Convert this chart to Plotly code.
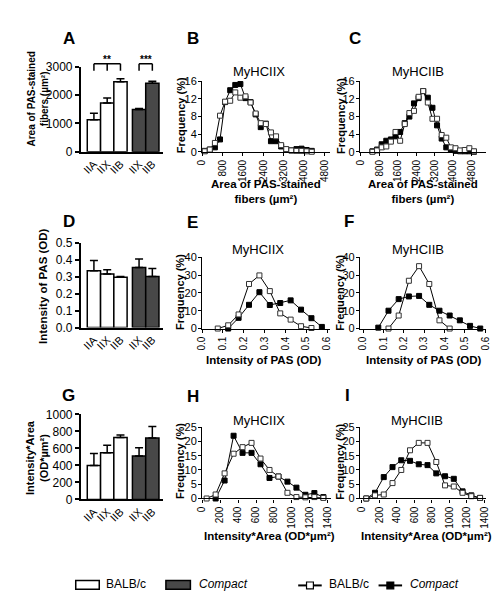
import plotly.graph_objects as go

W, H = 500, 602
def px(x): return x / W
def py(y): return 1 - y / H

FONT = "Liberation Sans, Arial, sans-serif"

# ---------------- bar data ----------------
bar_labels = ["IIA", "IIX", "IIB", "IIX", "IIB"]
balb_pos = [0, 1, 2]
comp_pos = [3.4, 4.4]

area_balb = [1130, 1720, 2470]
area_balb_err = [230, 180, 110]
area_comp = [1490, 2420]
area_comp_err = [35, 70]

pas_balb = [0.334, 0.315, 0.296]
pas_balb_err = [0.06, 0.025, 0.005]
pas_comp = [0.353, 0.300]
pas_comp_err = [0.05, 0.048]

ia_balb = [400, 550, 730]
ia_balb_err = [140, 88, 30]
ia_comp = [512, 723]
ia_comp_err = [96, 135]

# ---------------- frequency data ----------------
B_x = [100, 300, 500, 700, 900, 1100, 1300, 1500, 1700, 1900, 2100, 2300, 2500,
       2700, 2900, 3100, 3300, 3500, 3700, 3900, 4100, 4300]
B_balb = [0.1, 0.5, 2.0, 8.2, 11.4, 11.6, 13.5, 12.3, 12.6, 11.2, 8.7, 6.5, 6.3,
          4.4, 3.5, 1.5, 0.6, 0.3, 0.2, 0.2, 0.1, 0.0]
B_comp = [0.2, 0.5, 1.0, 2.8, 11.3, 14.0, 15.2, 15.4, 12.2, 11.3, 8.5, 5.6, 6.4,
          2.4, 2.4, 1.2, 0.5, 0.3, 0.6, 0.7, 0.4, 0.2]

C_x = [500, 700, 900, 1100, 1300, 1500, 1700, 1900, 2100, 2300, 2500, 2700, 2900,
       3100, 3300, 3500, 3700, 3900, 4100, 4300, 4500, 4700, 4900]
C_balb = [0.0, 0.3, 1.0, 1.2, 2.3, 4.5, 2.5, 6.3, 8.8, 9.3, 12.5, 13.8, 11.2,
          7.5, 7.5, 3.8, 3.2, 1.0, 0.8, 0.3, 0.4, 0.8, 0.1]
C_comp = [0.1, 0.5, 1.7, 2.5, 2.8, 3.5, 4.5, 6.5, 8.0, 11.0, 12.2, 13.8, 12.3,
          10.0, 6.0, 3.0, 1.0, 0.5, 0.2, 0.1, 0.1, 0.1, 0.0]

E_x_balb = [0.075, 0.125, 0.175, 0.225, 0.275, 0.325, 0.375, 0.425, 0.475, 0.525]
E_balb = [0.0, 1.8, 7.9, 25.0, 29.8, 21.0, 8.5, 5.0, 1.3, 0.3]
E_x_comp = [0.125, 0.175, 0.225, 0.275, 0.325, 0.375, 0.425, 0.475, 0.525, 0.575]
E_comp = [0.0, 6.0, 13.3, 20.4, 13.2, 14.3, 15.8, 10.6, 5.8, 0.9]

F_x_balb = [0.125, 0.175, 0.225, 0.275, 0.325, 0.375, 0.425]
F_balb = [0.0, 7.3, 26.8, 35.0, 25.0, 4.6, 0.0]
F_x_comp = [0.075, 0.125, 0.175, 0.225, 0.275, 0.325, 0.375, 0.425, 0.475, 0.525, 0.575]
F_comp = [0.5, 10.0, 16.5, 18.0, 18.3, 13.3, 10.0, 7.3, 4.6, 1.5, 0.0]

H_x = [50, 150, 250, 350, 450, 550, 650, 750, 850, 950, 1050, 1150, 1250, 1350]
H_balb = [0.0, 1.4, 8.8, 15.7, 18.0, 19.5, 14.0, 10.0, 7.7, 2.0, 0.5, 0.4, 0.5, 0.2]
H_x_comp = [150, 250, 350, 450, 550, 650, 750, 850, 950, 1050, 1150, 1250, 1350]
H_comp = [0.0, 6.3, 22.0, 16.0, 16.0, 12.0, 7.2, 7.7, 5.9, 3.8, 1.3, 1.9, 0.5]

I_x = [50, 150, 250, 350, 450, 550, 650, 750, 850, 950, 1050, 1150, 1250, 1350]
I_balb = [0.0, 1.1, 1.4, 5.4, 10.0, 16.9, 19.5, 19.5, 12.8, 4.6, 4.2, 2.0, 0.8, 0.2]
I_comp = [0.0, 2.0, 7.5, 11.0, 13.4, 13.2, 12.0, 11.7, 8.8, 7.8, 6.9, 2.5, 1.1, 0.2]

DARK = "#484848"

fig = go.Figure()

# ---------------- bar panels ----------------
bar_sets = [
    (1, area_balb, area_balb_err, area_comp, area_comp_err),
    (4, pas_balb, pas_balb_err, pas_comp, pas_comp_err),
    (7, ia_balb, ia_balb_err, ia_comp, ia_comp_err),
]
for n, vb, eb, vc, ec in bar_sets:
    xa = "x" if n == 1 else f"x{n}"
    ya = "y" if n == 1 else f"y{n}"
    for pos, vals, errs, col in [(balb_pos, vb, eb, "white"), (comp_pos, vc, ec, DARK)]:
        fig.add_trace(go.Bar(
            x=pos, y=vals, width=1.0, xaxis=xa, yaxis=ya,
            marker=dict(color=col, line=dict(color="black", width=1.5)),
            error_y=dict(type="data", symmetric=False, array=errs,
                         arrayminus=[0] * len(errs), color="black",
                         thickness=1.5, width=4),
            showlegend=False, cliponaxis=False))

# ---------------- frequency panels ----------------
freq_sets = [
    (2, B_x, B_balb, B_x, B_comp),
    (3, C_x, C_balb, C_x, C_comp),
    (5, E_x_balb, E_balb, E_x_comp, E_comp),
    (6, F_x_balb, F_balb, F_x_comp, F_comp),
    (8, H_x, H_balb, H_x_comp, H_comp),
    (9, I_x, I_balb, I_x, I_comp),
]
for n, xb, yb, xc, yc in freq_sets:
    xa, ya = f"x{n}", f"y{n}"
    fig.add_trace(go.Scatter(
        x=xc, y=yc, xaxis=xa, yaxis=ya, mode="lines+markers",
        line=dict(color="black", width=1),
        marker=dict(symbol="square", size=5, color="black",
                    line=dict(color="black", width=1)),
        showlegend=False, cliponaxis=False))
    fig.add_trace(go.Scatter(
        x=xb, y=yb, xaxis=xa, yaxis=ya, mode="lines+markers",
        line=dict(color="black", width=1),
        marker=dict(symbol="square", size=5, color="white",
                    line=dict(color="#333333", width=1)),
        showlegend=False, cliponaxis=False))

# ---------------- axes ----------------
layout_axes = {}

def set_axes(n, xdom, ydom, xrange, yrange, ytick, xkind, xtick=None, xfmt=None, yfmt=None):
    xk = "xaxis" if n == 1 else f"xaxis{n}"
    yk = "yaxis" if n == 1 else f"yaxis{n}"
    xa = "x" if n == 1 else f"x{n}"
    ya = "y" if n == 1 else f"y{n}"
    bar = xkind == "bar"
    lw = 1.5 if bar else 1.2
    yax = dict(domain=[py(ydom[0]), py(ydom[1])], range=yrange, anchor=xa,
               showline=True, linecolor="black", linewidth=lw,
               ticks="outside", ticklen=4 if bar else 3, tickwidth=lw, tickcolor="black",
               showgrid=False, zeroline=False, tick0=0, dtick=ytick,
               tickfont=dict(family=FONT, size=12 if bar else 11, color="black"))
    if not bar:
        yax["ticklabelstandoff"] = -1
    if yfmt:
        yax["tickformat"] = yfmt
    xax = dict(domain=[px(xdom[0]), px(xdom[1])], range=xrange, anchor=ya,
               showline=True, linecolor="black", linewidth=lw,
               showgrid=False, zeroline=False)
    if bar:
        xax.update(tickmode="array", tickvals=balb_pos + comp_pos, ticktext=bar_labels,
                   ticks="", tickangle=-45,
                   tickfont=dict(family=FONT, size=11, color="black"))
    else:
        xax.update(ticks="outside", ticklen=3, tickwidth=lw, tickcolor="black",
                   tick0=0, dtick=xtick, tickangle=-90,
                   tickfont=dict(family=FONT, size=10, color="black"))
        if xfmt:
            xax["tickformat"] = xfmt
    layout_axes[xk] = xax
    layout_axes[yk] = yax

bar_xr = [-1.0, 5.2]
set_axes(1, (68, 152), (140, 53), bar_xr, [0, 3000], 1000, "bar")
set_axes(4, (68, 152), (320, 233), bar_xr, [0, 0.5], 0.1, "bar", yfmt=".1f")
set_axes(7, (68, 152), (496, 409), bar_xr, [0, 1000], 200, "bar")

set_axes(2, (192, 322), (140, 68), [0, 5000], [0, 16], 4, "f", xtick=800)
set_axes(3, (353, 482), (140, 68), [-42, 5437], [0, 16], 4, "f", xtick=800)
set_axes(5, (192, 322), (321, 248), [0, 0.612], [0, 40], 10, "f", xtick=0.1, xfmt=".1f")
set_axes(6, (353, 482), (321, 248), [-0.015, 0.605], [0, 40], 10, "f", xtick=0.1, xfmt=".1f")
set_axes(8, (192, 323), (495, 422), [0, 1430], [0, 25], 5, "f", xtick=200)
set_axes(9, (353, 482), (495, 422), [-22, 1422], [0, 25], 5, "f", xtick=200)

# ---------------- annotations ----------------
ann = []
def text(x, y, s, size, bold=False, italic=False, angle=0, xanchor="center", yanchor="middle"):
    if bold:
        s = f"<b>{s}</b>"
    if italic:
        s = f"<i>{s}</i>"
    ann.append(dict(x=px(x), y=py(y), xref="paper", yref="paper", text=s, showarrow=False,
                    font=dict(family=FONT, size=size, color="black"), textangle=angle,
                    xanchor=xanchor, yanchor=yanchor))

# panel letters
for s, x, y in [("A", 56, 24), ("B", 183, 24), ("C", 348, 24),
                ("D", 56, 211), ("E", 182, 212), ("F", 342, 211),
                ("G", 56, 390), ("H", 183, 391), ("I", 340, 390)]:
    text(x, y, s, 17, bold=True)

# panel titles
for s, x, y in [("MyHCIIX", 250, 58), ("MyHCIIB", 412, 58),
                ("MyHCIIX", 249, 240), ("MyHCIIB", 412, 240),
                ("MyHCIIX", 250, 415), ("MyHCIIB", 411, 415)]:
    text(x, y, s, 13)

# y titles
text(24, 86, "Area of PAS-stained<br>fibers (µm²)", 10, bold=True, angle=-90)
text(29, 277, "Intensity of PAS (OD)", 11.5, bold=True, angle=-90)
text(24, 453, "Intensity*Area<br>(OD*µm²)", 11, bold=True, angle=-90)
for x, y in [(170, 103), (333, 103), (170, 284), (333, 284), (170, 457), (333, 457)]:
    text(x, y, "Frequency (%)", 11, bold=True, angle=-90)

# x titles
text(257, 181, "Area of PAS-stained<br>fibers (µm²)", 11.5, bold=True)
text(417, 181, "Area of PAS-stained<br>fibers (µm²)", 11.5, bold=True)
text(255, 353, "Intensity of PAS (OD)", 11.5, bold=True)
text(418, 353, "Intensity of PAS (OD)", 11.5, bold=True)
text(261, 533, "Intensity*Area (OD*µm²)", 11.5, bold=True)
text(421, 533, "Intensity*Area (OD*µm²)", 11.5, bold=True)

# significance stars
ann.append(dict(x=balb_pos[1], y=py(46), xref="x", yref="paper", text="<b>**</b>",
                showarrow=False, font=dict(family=FONT, size=10, color="black"),
                xanchor="center", yanchor="middle"))
ann.append(dict(x=(comp_pos[0] + comp_pos[1]) / 2, y=py(46), xref="x", yref="paper",
                text="<b>***</b>", showarrow=False,
                font=dict(family=FONT, size=10, color="black"),
                xanchor="center", yanchor="middle"))

# legend texts
text(92, 583, "BALB/c", 12, xanchor="left")
text(187, 583, "Compact", 12, italic=True, xanchor="left")
text(319, 583, "BALB/c", 12, xanchor="left")
text(402, 583, "Compact", 12, italic=True, xanchor="left")

# ---------------- shapes ----------------
shapes = []
def seg(x0, y0, x1, y1, xref="x"):
    shapes.append(dict(type="line", xref=xref, yref="paper", x0=x0, x1=x1,
                       y0=py(y0), y1=py(y1), line=dict(color="black", width=1.5)))

# ** bracket IIA-IIX-IIB
seg(balb_pos[0], 50, balb_pos[2], 50)
seg(balb_pos[0], 50, balb_pos[0], 57)
seg(balb_pos[1], 50, balb_pos[1], 57)
seg(balb_pos[2], 50, balb_pos[2], 57)
# *** bracket
seg(comp_pos[0], 50, comp_pos[1], 50)
seg(comp_pos[0], 50, comp_pos[0], 57)
seg(comp_pos[1], 50, comp_pos[1], 57)

def prect(x0, y0, x1, y1, fill, lw=1.5):
    shapes.append(dict(type="rect", xref="paper", yref="paper", x0=px(x0), x1=px(x1),
                       y0=py(y1), y1=py(y0), fillcolor=fill,
                       line=dict(color="black", width=lw)))

# legend symbols
prect(63, 579, 87, 588, "white")
prect(155, 579, 180, 588, DARK)
for x0, x1, fill in [(290, 314, "white"), (372, 396, "black")]:
    shapes.append(dict(type="line", xref="paper", yref="paper", x0=px(x0), x1=px(x1),
                       y0=py(584), y1=py(584), line=dict(color="black", width=2)))
    c = (x0 + x1) / 2
    prect(c - 3.5, 580.5, c + 3.5, 587.5, fill, lw=1.2)

fig.update_layout(
    width=W, height=H, margin=dict(l=0, r=0, t=0, b=0),
    paper_bgcolor="white", plot_bgcolor="rgba(0,0,0,0)",
    showlegend=False, barmode="overlay",
    annotations=ann, shapes=shapes, **layout_axes)

fig.write_html("out.html")
